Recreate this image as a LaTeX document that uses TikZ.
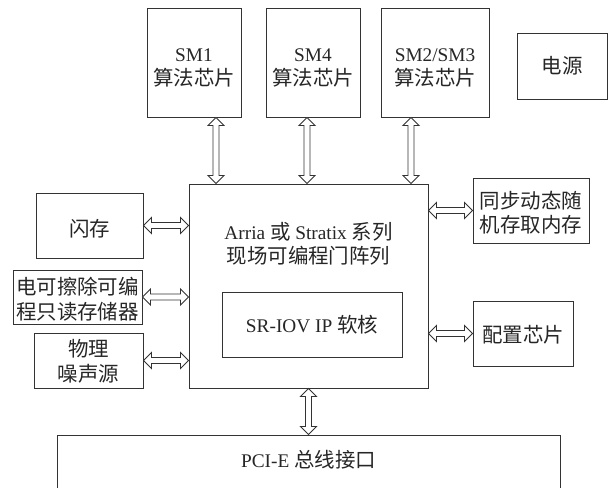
\documentclass[tikz,border=0pt]{standalone}
\usepackage{fontspec}
\setmainfont{Liberation Serif}
\newfontfamily\cjk{Noto Sans CJK SC}[Scale=1.06]
\usetikzlibrary{calc}
\tikzset{
  box/.style={draw=black!80, line width=0.9pt, inner sep=0pt, rectangle},
  txt/.style={align=center, inner sep=0pt, text=black!85, font=\fontsize{19.3}{24.5}\selectfont},
  arrline/.style={draw=black!80, line width=0.85pt, fill=white, line join=miter},
}
\newcommand\vdarrow[2]{\draw[arrline] let \p1=(#1), \p2=(#2) in
 (\x1,\y1) -- (\x1-8pt,\y1-8pt) -- (\x1-3pt,\y1-8pt) -- (\x1-3pt,\y2+8pt) -- (\x1-8pt,\y2+8pt)
 -- (\x1,\y2) -- (\x1+8pt,\y2+8pt) -- (\x1+3pt,\y2+8pt) -- (\x1+3pt,\y1-8pt) -- (\x1+8pt,\y1-8pt) -- cycle;}
\newcommand\hdarrow[2]{\draw[arrline] let \p1=(#1), \p2=(#2) in
 (\x1,\y1) -- (\x1+8pt,\y1+8pt) -- (\x1+8pt,\y1+3pt) -- (\x2-8pt,\y1+3pt) -- (\x2-8pt,\y1+8pt)
 -- (\x2,\y1) -- (\x2-8pt,\y1-8pt) -- (\x2-8pt,\y1-3pt) -- (\x1+8pt,\y1-3pt) -- (\x1+8pt,\y1-8pt) -- cycle;}
\begin{document}
\begin{tikzpicture}[x=1pt,y=-1pt]
\useasboundingbox (0,0) rectangle (612,487);
\clip (0,0) rectangle (612,487);
\fill[white] (0,0) rectangle (612,487);
% top chips
\node[box, minimum width=94pt, minimum height=109pt] (sm1) at (194,62.5) {};
\node[txt] (sm1t) at (194,68) {SM1\\{\cjk 算法芯片}};
\node[box, minimum width=94pt, minimum height=109pt] (sm4) at (313,62.5) {};
\node[txt] (sm4t) at (313,68) {SM4\\{\cjk 算法芯片}};
\node[box, minimum width=108pt, minimum height=109pt] (sm23) at (435,62.5) {};
\node[txt] (sm23t) at (435,68) {SM2/SM3\\{\cjk 算法芯片}};
\node[box, minimum width=90pt, minimum height=66pt] (pwr) at (562,66) {};
\node[txt] (pwrt) at (562,66) {\cjk 电源};
% main FPGA
\node[box, minimum width=239pt, minimum height=204pt] (main) at (308.5,286) {};
\node[txt] (maint) at (308.5,244) {Arria {\cjk 或} Stratix {\cjk 系列}\\{\cjk 现场可编程门阵列}};
\node[box, minimum width=180pt, minimum height=65pt] (sriov) at (312,324.5) {};
\node[txt] (sriovt) at (312,325) {SR-IOV IP {\cjk 软核}};
% left
\node[box, minimum width=107pt, minimum height=65pt] (flash) at (89.5,225.5) {};
\node[txt] (flasht) at (89.5,229) {\cjk 闪存};
\node[box, minimum width=129pt, minimum height=54pt] (eeprom) at (77.5,297) {};
\node[txt] (eepromt) at (77.5,299) {\cjk 电可擦除可编\\\cjk 程只读存储器};
\node[box, minimum width=109pt, minimum height=55pt] (noise) at (88.5,360.5) {};
\node[txt] (noiset) at (88.5,361.5) {\cjk 物理\\\cjk 噪声源};
% right
\node[box, minimum width=116pt, minimum height=65pt] (sdram) at (531,210.5) {};
\node[txt] (sdramt) at (531,212.5) {\cjk 同步动态随\\\cjk 机存取内存};
\node[box, minimum width=100pt, minimum height=65pt] (cfg) at (523,333.5) {};
\node[txt] (cfgt) at (523,335) {\cjk 配置芯片};
% bottom
\node[box, minimum width=503pt, minimum height=80pt] (pci) at (308.5,475) {};
\node[txt] (pcit) at (308.5,460) {PCI-E {\cjk 总线接口}};
% arrow endpoints
\coordinate (a1t) at ([xshift=22pt]sm1.south);
\coordinate (a1b) at ([xshift=-92.5pt]main.north);
\coordinate (a2t) at ([xshift=-6pt]sm4.south);
\coordinate (a2b) at ([xshift=-1.5pt]main.north);
\coordinate (a3t) at ([xshift=-24pt]sm23.south);
\coordinate (a3b) at ([xshift=102.5pt]main.north);
\coordinate (a4t) at (main.south);
\coordinate (a4b) at (pci.north);
\coordinate (l1a) at (flash.east);
\coordinate (l1b) at (main.west |- flash.east);
\coordinate (l2a) at (eeprom.east);
\coordinate (l2b) at (main.west |- eeprom.east);
\coordinate (l3a) at (noise.east);
\coordinate (l3b) at (main.west |- noise.east);
\coordinate (r1a) at (main.east |- sdram.west);
\coordinate (r1b) at (sdram.west);
\coordinate (r2a) at (main.east |- cfg.west);
\coordinate (r2b) at (cfg.west);
\vdarrow{a1t}{a1b}
\vdarrow{a2t}{a2b}
\vdarrow{a3t}{a3b}
\vdarrow{a4t}{a4b}
\hdarrow{l1a}{l1b}
\hdarrow{l2a}{l2b}
\hdarrow{l3a}{l3b}
\hdarrow{r1a}{r1b}
\hdarrow{r2a}{r2b}
\end{tikzpicture}
\end{document}
